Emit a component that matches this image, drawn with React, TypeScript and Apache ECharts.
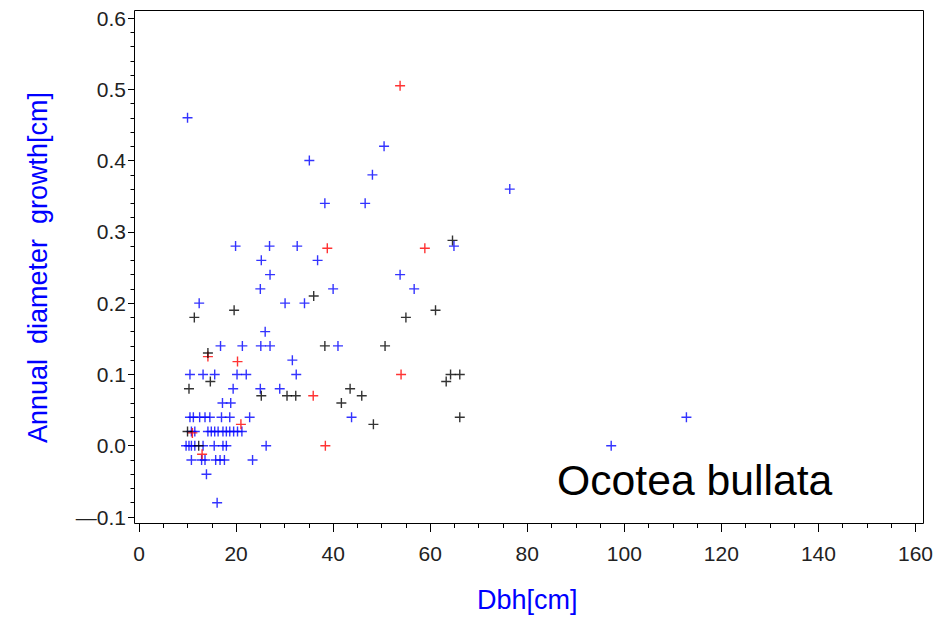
import React, { useEffect, useRef } from "react";
import * as echarts from "echarts";

// Dbh [cm] vs annual diameter growth [cm], three groups of trees
const bluePoints: [number, number][] = [
  [10.0, 0.46], [35.1, 0.40], [50.5, 0.42], [48.1, 0.38], [38.3, 0.34], [46.6, 0.34],
  [76.4, 0.36], [19.9, 0.28], [26.9, 0.28], [32.6, 0.28], [25.2, 0.26], [36.8, 0.26],
  [27.0, 0.24], [53.8, 0.24], [25.0, 0.22], [40.0, 0.22], [56.7, 0.22], [64.9, 0.28],
  [12.4, 0.20], [30.1, 0.20], [34.1, 0.20], [26.0, 0.16], [16.8, 0.14], [21.3, 0.14],
  [25.1, 0.14], [27.0, 0.14], [41.0, 0.14], [31.6, 0.12], [10.5, 0.10], [13.2, 0.10],
  [15.6, 0.10], [20.2, 0.10], [22.1, 0.10], [32.4, 0.10], [19.4, 0.08], [25.0, 0.08],
  [29.0, 0.08], [17.2, 0.06], [18.9, 0.06],
  [10.5, 0.04], [11.2, 0.04], [12.5, 0.04], [13.6, 0.04], [14.6, 0.04], [17.0, 0.04],
  [18.7, 0.04], [22.8, 0.04], [43.8, 0.04], [112.8, 0.04],
  [10.8, 0.02], [11.5, 0.02], [14.2, 0.02], [14.9, 0.02], [15.6, 0.02], [16.3, 0.02],
  [17.3, 0.02], [18.0, 0.02], [18.7, 0.02], [19.5, 0.02], [20.3, 0.02], [21.2, 0.02],
  [9.7, 0.0], [10.3, 0.0], [10.8, 0.0], [11.5, 0.0], [13.2, 0.0], [15.5, 0.0],
  [17.3, 0.0], [18.0, 0.0], [26.2, 0.0], [97.3, 0.0],
  [10.8, -0.02], [12.9, -0.02], [13.6, -0.02], [15.8, -0.02], [16.7, -0.02], [17.6, -0.02],
  [23.4, -0.02], [13.9, -0.04], [16.1, -0.08],
];

const redPoints: [number, number][] = [
  [53.8, 0.505], [58.9, 0.277], [38.8, 0.277], [54.0, 0.10], [35.9, 0.07], [38.4, 0.0],
  [14.2, 0.125], [20.3, 0.118], [21.0, 0.03], [11.0, 0.018], [13.0, -0.012],
];

const blackPoints: [number, number][] = [
  [64.6, 0.288], [61.1, 0.19], [55.0, 0.18], [50.7, 0.14], [64.2, 0.10], [66.1, 0.10],
  [63.3, 0.09], [45.9, 0.07], [66.1, 0.04], [48.3, 0.03], [36.0, 0.21], [38.3, 0.14],
  [25.2, 0.07], [30.5, 0.07], [32.3, 0.07], [43.5, 0.08], [41.7, 0.06], [19.6, 0.19],
  [11.4, 0.18], [14.2, 0.13], [14.7, 0.09], [10.3, 0.08], [10.0, 0.02], [12.3, 0.0],
];

const xAxisTitle = "Dbh[cm]";
const yAxisTitle = "Annual  diameter  growth[cm]";
const speciesName = "Ocotea bullata";

const FONT = "'Liberation Sans', Arial, Helvetica, sans-serif";
const PLUS = "path://M4.3,0H5.7V4.3H10V5.7H5.7V10H4.3V5.7H0V4.3H4.3Z";

const plusSeries = (name: string, data: [number, number][], color: string) => ({
  name,
  type: "scatter",
  data,
  symbol: PLUS,
  symbolSize: 10,
  itemStyle: { color },
  emphasis: { disabled: true },
});

export default function App() {
  const ref = useRef<HTMLDivElement>(null);

  useEffect(() => {
    if (!ref.current) return;
    const chart = echarts.init(ref.current, null, { renderer: "svg" });
    const tickStyle = { color: "#000", width: 1 };
    chart.setOption({
      animation: false,
      backgroundColor: "#fff",
      grid: { left: 139, right: 18, top: 18, bottom: 101 },
      xAxis: {
        type: "value",
        min: 0,
        max: 160,
        interval: 20,
        offset: 6,
        axisLine: { show: false, onZero: false },
        axisTick: { show: true, length: 9, lineStyle: tickStyle },
        minorTick: { show: true, splitNumber: 4, length: 5, lineStyle: tickStyle },
        splitLine: { show: false },
        axisLabel: { fontSize: 21, color: "#222", margin: 20, fontFamily: FONT },
        name: xAxisTitle,
        nameLocation: "middle",
        nameGap: 63,
        nameTextStyle: { fontSize: 27, color: "#0000ff", fontFamily: FONT },
      },
      yAxis: {
        type: "value",
        min: -0.1,
        max: 0.6,
        interval: 0.1,
        offset: 5,
        axisLine: { show: false, onZero: false },
        axisTick: { show: true, length: 6, lineStyle: tickStyle },
        minorTick: { show: true, splitNumber: 5, length: 3.5, lineStyle: tickStyle },
        splitLine: { show: false },
        axisLabel: {
          fontSize: 21,
          color: "#222",
          margin: 8,
          fontFamily: FONT,
          formatter: (v: number) =>
            v < -1e-9 ? "\u2014" + Math.abs(v).toFixed(1) : Math.abs(v).toFixed(1),
        },
        name: yAxisTitle,
        nameLocation: "middle",
        nameGap: 83,
        nameTextStyle: { fontSize: 27, color: "#0000ff", fontFamily: FONT },
      },
      graphic: [
        {
          type: "rect",
          silent: true,
          shape: { x: 134.5, y: 10.5, width: 789, height: 513 },
          style: { fill: "none", stroke: "#000", lineWidth: 1 },
        },
        {
          type: "text",
          x: 557,
          y: 480,
          silent: true,
          style: {
            text: speciesName,
            fill: "#000",
            font: `42.7px ${FONT}`,
            verticalAlign: "middle",
            align: "left",
          },
        },
      ],
      series: [
        plusSeries("blue", bluePoints, "#0000ff"),
        plusSeries("red", redPoints, "#ff0000"),
        plusSeries("black", blackPoints, "#000000"),
      ],
    });
    return () => chart.dispose();
  }, []);

  return (
    <div
      ref={ref}
      style={{ position: "fixed", left: 0, top: 0, width: 936, height: 618 }}
    />
  );
}
